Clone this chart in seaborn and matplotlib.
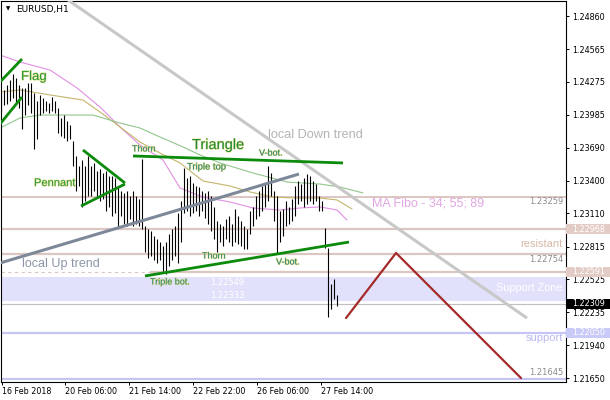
import matplotlib
matplotlib.use("Agg")
import pandas as pd
import matplotlib.pyplot as plt
import matplotlib.patheffects as pe
from matplotlib.patches import Rectangle
from matplotlib.transforms import blended_transform_factory
import seaborn as sns

# EURUSD H1 bars (high / low), oldest first
bar_high = [
    1.2417, 1.2420, 1.2425, 1.2429, 1.2435, 1.2431, 1.2425, 1.2422, 1.2422, 1.2427,
    1.2427, 1.2418, 1.2411, 1.2416, 1.2413, 1.2411, 1.2409, 1.2414, 1.2411, 1.2404,
    1.2396, 1.2398, 1.2393, 1.2389, 1.2375, 1.2362, 1.2353, 1.2358, 1.2353, 1.2362,
    1.2353, 1.2356, 1.2349, 1.2350, 1.2347, 1.2349, 1.2344, 1.2344, 1.2342, 1.2335,
    1.2331, 1.2329, 1.2331, 1.2326, 1.2331, 1.2326, 1.2324, 1.2359, 1.2300, 1.2297,
    1.2295, 1.2291, 1.2288, 1.2286, 1.2282, 1.2286, 1.2293, 1.2297, 1.2300, 1.2311,
    1.2322, 1.2351, 1.2342, 1.2344, 1.2338, 1.2335, 1.2334, 1.2331, 1.2329, 1.2331,
    1.2326, 1.2317, 1.2304, 1.2302, 1.2300, 1.2306, 1.2309, 1.2302, 1.2315, 1.2309,
    1.2304, 1.2300, 1.2297, 1.2313, 1.2317, 1.2326, 1.2331, 1.2335, 1.2337, 1.2353,
    1.2347, 1.2331, 1.2326, 1.2313, 1.2315, 1.2322, 1.2317, 1.2324, 1.2335, 1.2340,
    1.2337, 1.2342, 1.2346, 1.2344, 1.2340, 1.2337, 1.2326, 1.2322, 1.2298, 1.2280,
    1.2248, 1.2253, 1.2239,
]
bar_low = [
    1.2402, 1.2407, 1.2408, 1.2411, 1.2413, 1.2409, 1.2404, 1.2386, 1.2398, 1.2407,
    1.2400, 1.2368, 1.2377, 1.2398, 1.2400, 1.2402, 1.2400, 1.2402, 1.2400, 1.2382,
    1.2380, 1.2378, 1.2375, 1.2377, 1.2353, 1.2331, 1.2335, 1.2317, 1.2322, 1.2326,
    1.2326, 1.2331, 1.2326, 1.2322, 1.2324, 1.2313, 1.2317, 1.2309, 1.2311, 1.2300,
    1.2309, 1.2302, 1.2300, 1.2306, 1.2300, 1.2302, 1.2300, 1.2297, 1.2277, 1.2271,
    1.2273, 1.2270, 1.2267, 1.2270, 1.2260, 1.2257, 1.2264, 1.2270, 1.2273, 1.2267,
    1.2286, 1.2311, 1.2313, 1.2309, 1.2311, 1.2313, 1.2309, 1.2313, 1.2307, 1.2302,
    1.2295, 1.2288, 1.2277, 1.2286, 1.2282, 1.2288, 1.2286, 1.2282, 1.2286, 1.2284,
    1.2282, 1.2279, 1.2279, 1.2293, 1.2300, 1.2306, 1.2309, 1.2313, 1.2317, 1.2322,
    1.2326, 1.2304, 1.2276, 1.2286, 1.2291, 1.2300, 1.2302, 1.2304, 1.2309, 1.2319,
    1.2322, 1.2317, 1.2319, 1.2322, 1.2319, 1.2322, 1.2313, 1.2313, 1.2280, 1.2219,
    1.2226, 1.2235, 1.2229,
]

# MA Fibo 34 / 55 / 89 (bar index, price)
ma34_x = [-0.33, 6.33, 16.33, 25.33, 33, 39.67, 46.33, 54, 59.67, 67.33, 76.33, 84, 93, 99.67, 106.33, 112, 115.33]
ma34_y = [1.24514, 1.24452, 1.24381, 1.24222, 1.24053, 1.23876, 1.23716, 1.23583, 1.23335,
          1.23255, 1.23211, 1.23158, 1.23140, 1.23158, 1.23167, 1.23140, 1.23051]
ma55_x = [-0.33, 6.33, 16.33, 27.33, 33, 39.67, 46.33, 53, 59.67, 67.33, 76.33, 83, 90.67, 98.67, 106.33, 112, 117]
ma55_y = [1.24186, 1.24204, 1.24160, 1.24115, 1.24009, 1.23876, 1.23743, 1.23645, 1.23557,
          1.23397, 1.23353, 1.23300, 1.23255, 1.23246, 1.23246, 1.23229, 1.23149]
ma89_x = [-0.33, 6.33, 13, 22, 30.67, 39.67, 46.33, 53, 60.67, 66.33, 73, 84, 95.33, 106.33, 113, 120.67]
ma89_y = [1.23867, 1.23956, 1.23982, 1.23982, 1.23982, 1.23911, 1.23867, 1.23787, 1.23699,
          1.23628, 1.23557, 1.23468, 1.23388, 1.23370, 1.23344, 1.23291]

# drawn objects: (bar index list, price list)
down_trend = ([22.33, 175.33], [1.25002, 1.22182])
up_trend = ([-0.33, 99.33], [1.22670, 1.23459])
triangle_top = ([44, 114], [1.23619, 1.23557])
triangle_bottom = ([48, 116], [1.22555, 1.22856])
pennant_top = ([27.33, 41.33], [1.23672, 1.23379])
pennant_bottom = ([26.67, 41.33], [1.23175, 1.23370])
flag_top = ([-0.33, 7], [1.24275, 1.24479])
flag_bottom = ([-0.33, 7], [1.23902, 1.24142])
forecast = ([115, 131.67, 173.33], [1.22182, 1.22759, 1.21650])

ma_level = 1.23259
resist_hi = 1.22968
resist_mid = 1.22754
resist_lo = 1.22591
zone_top = 1.22549
zone_bottom = 1.22333
last_price = 1.22309
support_level = 1.22050
support_low = 1.21645

y_ticks = [1.24860, 1.24565, 1.24275, 1.23985, 1.23690, 1.23400,
           1.23110, 1.22815, 1.22525, 1.22235, 1.21940, 1.21650]
x_tick_pos = [0.33, 21.33, 42.67, 64, 85.33, 106.67]
x_tick_labels = ["16 Feb 2018", "20 Feb 06:00", "21 Feb 14:00",
                 "22 Feb 22:00", "26 Feb 06:00", "27 Feb 14:00"]

sns.set_theme(style="white")
plt.rcParams["font.family"] = ["DejaVu Sans"]

fig = plt.figure(figsize=(6.1, 4.0), dpi=100)
ax = fig.add_axes([1 / 610, 18 / 400, 565 / 610, 381 / 400])
ax.set_xlim(0, 188.33)
ax.set_ylim(1.21615, 1.24993)

LEV = "#dcc6c1"
LAV = "#c6c6f6"

# support zone and horizontal levels
ax.axhspan(zone_bottom, zone_top, color="#e1e1fb", lw=0, zorder=0)
ax.axhline(ma_level, color=LEV, lw=1.4, zorder=1)
ax.axhline(resist_hi, color=LEV, lw=1.6, zorder=1)
ax.axhline(resist_mid, color=LEV, lw=1.6, zorder=1)
ax.plot([0, 50], [resist_lo, resist_lo], color=LEV, lw=0.8, ls=(0, (3, 3)), zorder=1)
ax.plot([50, 188.33], [resist_lo, resist_lo], color=LEV, lw=1.6, zorder=1)
ax.axhline(last_price, color="#c0c0c0", lw=0.8, zorder=1)
ax.axhline(support_level, color=LAV, lw=1.6, zorder=1)
ax.axhline(support_low, color=LAV, lw=1.6, zorder=1)

# moving averages
ma = pd.concat([
    pd.DataFrame({"bar": ma34_x, "price": ma34_y, "ma": "34"}),
    pd.DataFrame({"bar": ma55_x, "price": ma55_y, "ma": "55"}),
    pd.DataFrame({"bar": ma89_x, "price": ma89_y, "ma": "89"}),
])
sns.lineplot(data=ma, x="bar", y="price", hue="ma", ax=ax, legend=False,
             palette={"34": "#e28fe2", "55": "#c4b56c", "89": "#92c68c"},
             linewidth=0.8, zorder=2)

# bars
bars = pd.DataFrame({"high": bar_high, "low": bar_low})
ax.vlines(bars.index, bars["low"], bars["high"], color="black", lw=0.8, zorder=3)

# trend lines and patterns
ax.plot(*down_trend, color="#c8c8c8", lw=2.2, zorder=4, solid_capstyle="butt")
ax.plot(*up_trend, color="#7d8898", lw=2.2, zorder=4, solid_capstyle="butt")
for line in [triangle_top, triangle_bottom, pennant_top, pennant_bottom, flag_top, flag_bottom]:
    ax.plot(*line, color="#0b8a0b", lw=2.0, zorder=4, solid_capstyle="butt")
ax.plot(*forecast, color="#a52a2a", lw=1.6, zorder=4)

# labels
glow = [pe.withStroke(linewidth=0.7, foreground="#e2de84")]
pattern_labels = [
    ("Flag", 6.67, 1.24319, 9.5, "#2a9a3a"),
    ("Pennant", 11, 1.23379, 8, "#2a9a3a"),
    ("Triangle", 63.67, 1.23716, 10.5, "#1f8a3a"),
    ("Thorn", 43.67, 1.23681, 6.5, "#1f7f7a"),
    ("Triple top", 62, 1.23521, 6.8, "#1f7f7a"),
    ("V-bot.", 86, 1.23645, 6.5, "#1f7f7a"),
    ("Thorn", 67, 1.22732, 6.5, "#1f7f7a"),
    ("V-bot.", 91.67, 1.22679, 6.5, "#1f7f7a"),
    ("Triple bot.", 49.67, 1.22502, 6.5, "#1f7f7a"),
]
for txt, bx, py, fs, col in pattern_labels:
    ax.text(bx, py, txt, fontsize=fs, color=col, ha="left", va="center",
            family="Liberation Sans", path_effects=glow, zorder=6)

ax.text(89, 1.23805, "local Down trend", fontsize=9.2, color="#b4b4b4",
        family="Liberation Sans", va="center", zorder=6)
ax.text(7, 1.22661, "local Up trend", fontsize=9, color="#8a96a8",
        family="Liberation Sans", va="center", zorder=6)
ax.annotate("1.22549", xy=(69.67, zone_top), xytext=(0, -4), textcoords="offset points",
            fontsize=6, color="white", va="center", zorder=6)
ax.annotate("1.22333", xy=(69.67, zone_bottom), xytext=(0, 4.3), textcoords="offset points",
            fontsize=6, color="white", va="center", zorder=6)
ax.annotate("MA Fibo - 34; 55; 89", xy=(123.67, ma_level), xytext=(0, -5.3),
            textcoords="offset points", fontsize=9, color="#e2a6e2",
            family="Liberation Sans", va="center", zorder=6)

right_labels = [
    ("1.23259", ma_level, -3.9, 6, "#8c8c8c", "DejaVu Sans"),
    ("resistant", resist_mid, 6.8, 8, "#d6b9a8", "Liberation Sans"),
    ("1.22754", resist_mid, -4.0, 6, "#8c8c8c", "DejaVu Sans"),
    ("Support Zone", (zone_top + zone_bottom) / 2, 0.5, 7.8, "white", "Liberation Sans"),
    ("support", support_level, -3.7, 8, "#b8b8f0", "Liberation Sans"),
    ("1.21645", support_low, 4.7, 6, "#8c8c8c", "DejaVu Sans"),
]
for txt, lvl, dy, fs, col, fam in right_labels:
    ax.annotate(txt, xy=(1.0, lvl), xycoords=("axes fraction", "data"),
                xytext=(-2.2, dy), textcoords="offset points", fontsize=fs, color=col,
                family=fam, ha="right", va="center", zorder=6)

# price boxes on the axis
trans = blended_transform_factory(ax.transAxes, ax.transData)
boxes = [(resist_hi, "#e3ccc6"), (resist_lo, "#e3ccc6"), (last_price, "black"), (support_level, "#cacaf8")]
for lvl, fc in boxes:
    ax.add_patch(Rectangle((1.0, lvl - 0.00044), 0.078, 0.00088, transform=trans,
                           facecolor=fc, edgecolor="none", clip_on=False, zorder=7))
    ax.text(1.0106, lvl, f"{lvl:.5f}", transform=trans, fontsize=5.8, color="white",
            va="center", ha="left", clip_on=False, zorder=8)

# chart title
ax.text(0.009, 0.979, "\u25bc", transform=ax.transAxes, fontsize=4, color="black", va="center")
ax.text(0.0265, 0.979, "EURUSD,H1", transform=ax.transAxes, fontsize=6.5, color="black", va="center")

# axes
ax.yaxis.tick_right()
ax.set_yticks(y_ticks)
ax.set_yticklabels([f"{v:.5f}" for v in y_ticks])
ax.set_xticks(x_tick_pos)
ax.set_xticklabels(x_tick_labels, ha="left")
ax.tick_params(axis="y", right=True, left=False, direction="out", length=2.2, width=0.7,
               pad=2.2, labelsize=5.8, colors="black")
ax.tick_params(axis="x", bottom=True, direction="out", length=2.2, width=0.7,
               pad=1.5, labelsize=5.8, colors="black")
ax.set_xlabel("")
ax.set_ylabel("")
ax.grid(False)
for s in ax.spines.values():
    s.set_color("black")
    s.set_linewidth(0.8)

fig.savefig("out.png", dpi=100, facecolor="white")
